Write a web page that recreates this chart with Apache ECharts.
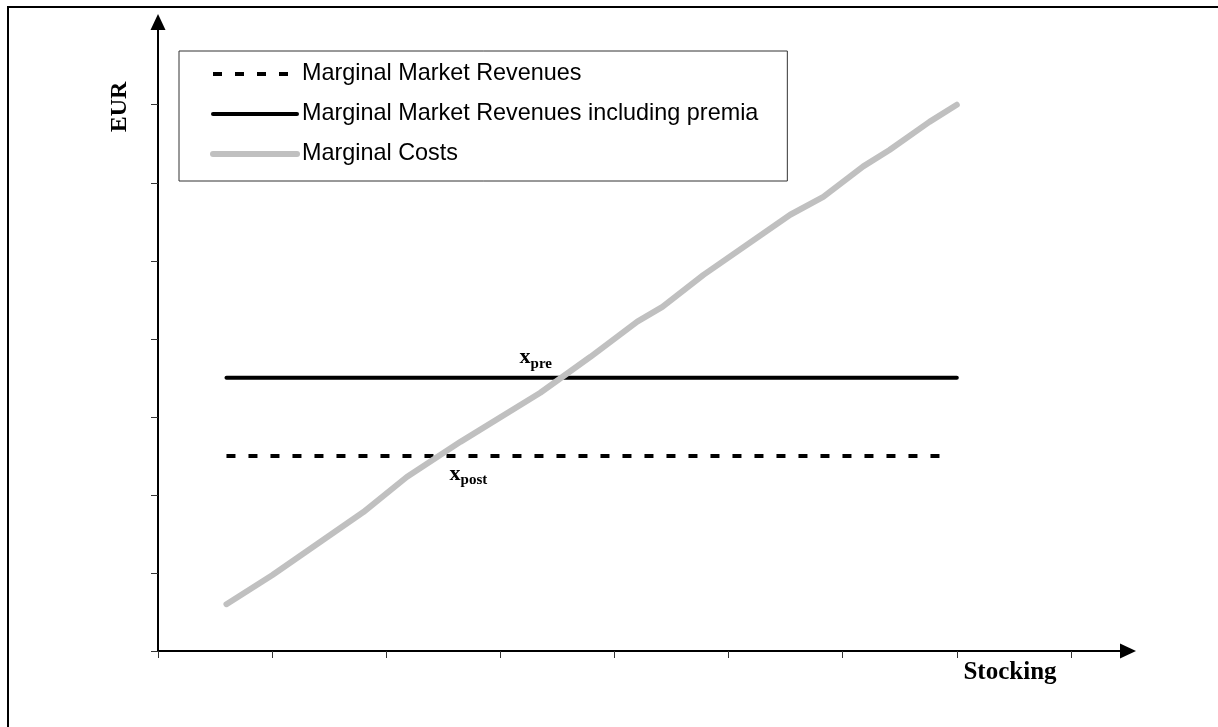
<!DOCTYPE html>
<html>
<head>
<meta charset="utf-8">
<script src="https://cdn.jsdelivr.net/npm/echarts@6/dist/echarts.min.js"></script>
<style>
html,body{margin:0;padding:0;background:#fff;}
#chart{width:1218px;height:727px;}
</style>
</head>
<body>
<div id="chart"></div>
<script>
// ---- data ----
var seriesNames = ['Marginal Market Revenues', 'Marginal Market Revenues including premia', 'Marginal Costs'];
var revenues = [[0.6, 2.5], [6.87, 2.5]];
var revenuesPremia = [[0.6, 3.5], [7.0, 3.5]];
var marginalCosts = [[0.6, 0.6], [1.0, 0.97], [1.8, 1.78], [2.18, 2.23], [2.65, 2.68], [3.35, 3.31], [3.79, 3.77], [4.2, 4.22], [4.42, 4.41], [4.78, 4.82], [5.54, 5.59], [5.83, 5.82], [6.18, 6.21], [6.41, 6.42], [6.76, 6.78], [7.0, 7.0]];
var annotations = [[3.31, 3.76, 'pre'], [2.72, 2.27, 'post']];
var xTicks = [0, 1, 2, 3, 4, 5, 6, 7, 8];
var yTicks = [0, 1, 2, 3, 4, 5, 6, 7];
var xTitle = 'Stocking';
var yTitle = 'EUR';

var chart = echarts.init(document.getElementById('chart'), null, {renderer: 'canvas'});
var serif = '"Liberation Serif", "Times New Roman", serif';
var sans = '"Liberation Sans", Arial, sans-serif';

var styles = [
  {color: '#000', width: 4, type: [9, 13], cap: 'butt'},
  {color: '#000', width: 4, type: 'solid', cap: 'round'},
  {color: '#c0c0c0', width: 6, type: 'solid', cap: 'round', join: 'round'}
];

chart.setOption({
  animation: false,
  backgroundColor: '#fff',
  grid: {left: 158, right: 90, top: 22, bottom: 76},
  xAxis: {
    type: 'value', min: 0, max: 8.5, interval: 1,
    axisLine: {show: true, symbol: ['none', 'triangle'], symbolSize: [15, 16], lineStyle: {color: '#000', width: 2}},
    axisTick: {show: true, length: 7, customValues: xTicks, lineStyle: {color: '#333', width: 1}},
    axisLabel: {show: false},
    splitLine: {show: false}
  },
  yAxis: {
    type: 'value', min: 0, max: 8.06, interval: 1,
    axisLine: {show: true, symbol: ['none', 'triangle'], symbolSize: [15, 16], lineStyle: {color: '#000', width: 2}},
    axisTick: {show: true, length: 7, customValues: yTicks, lineStyle: {color: '#333', width: 1}},
    axisLabel: {show: false},
    splitLine: {show: false}
  },
  legend: {
    data: seriesNames.map(function (n, i) {
      return {name: n, itemStyle: {opacity: 0}, lineStyle: styles[i]};
    }),
    orient: 'vertical',
    left: 179, top: 51,
    padding: [10, 29, 14, 31],
    itemWidth: 84, itemHeight: 14, itemGap: 14,
    borderColor: '#333', borderWidth: 1, borderRadius: 0,
    textStyle: {fontFamily: sans, fontSize: 23.4, color: '#000', lineHeight: 26},
    selectedMode: false
  },
  series: [
    {
      name: seriesNames[0], type: 'line', data: revenues, symbol: 'none',
      lineStyle: styles[0], itemStyle: {color: '#000'}
    },
    {
      name: seriesNames[1], type: 'line', data: revenuesPremia, symbol: 'none',
      lineStyle: styles[1], itemStyle: {color: '#000'}
    },
    {
      name: seriesNames[2], type: 'line', data: marginalCosts, symbol: 'none',
      lineStyle: styles[2], itemStyle: {color: '#c0c0c0'}
    },
    {
      name: 'annotations', type: 'scatter', data: annotations,
      symbolSize: 1, itemStyle: {opacity: 0}, silent: true,
      label: {
        show: true, position: 'inside', opacity: 1,
        formatter: function (p) { return '{x|x}{s|' + p.data[2] + '}'; },
        rich: {
          x: {fontFamily: serif, fontWeight: 'bold', fontSize: 22, color: '#000', lineHeight: 22},
          s: {fontFamily: serif, fontWeight: 'bold', fontSize: 15, color: '#000', lineHeight: 28, verticalAlign: 'bottom'}
        }
      }
    }
  ],
  graphic: [
    {type: 'rect', shape: {x: 8, y: 7, width: 1230, height: 740}, style: {fill: 'none', stroke: '#000', lineWidth: 2}, silent: true},
    {type: 'text', x: 120, y: 107, rotation: Math.PI / 2, style: {text: yTitle, font: 'bold 24px ' + serif, fill: '#000', align: 'center', verticalAlign: 'middle'}},
    {type: 'text', x: 1010, y: 673, style: {text: xTitle, font: 'bold 25px ' + serif, fill: '#000', align: 'center', verticalAlign: 'middle'}}
  ]
});
</script>
</body>
</html>
